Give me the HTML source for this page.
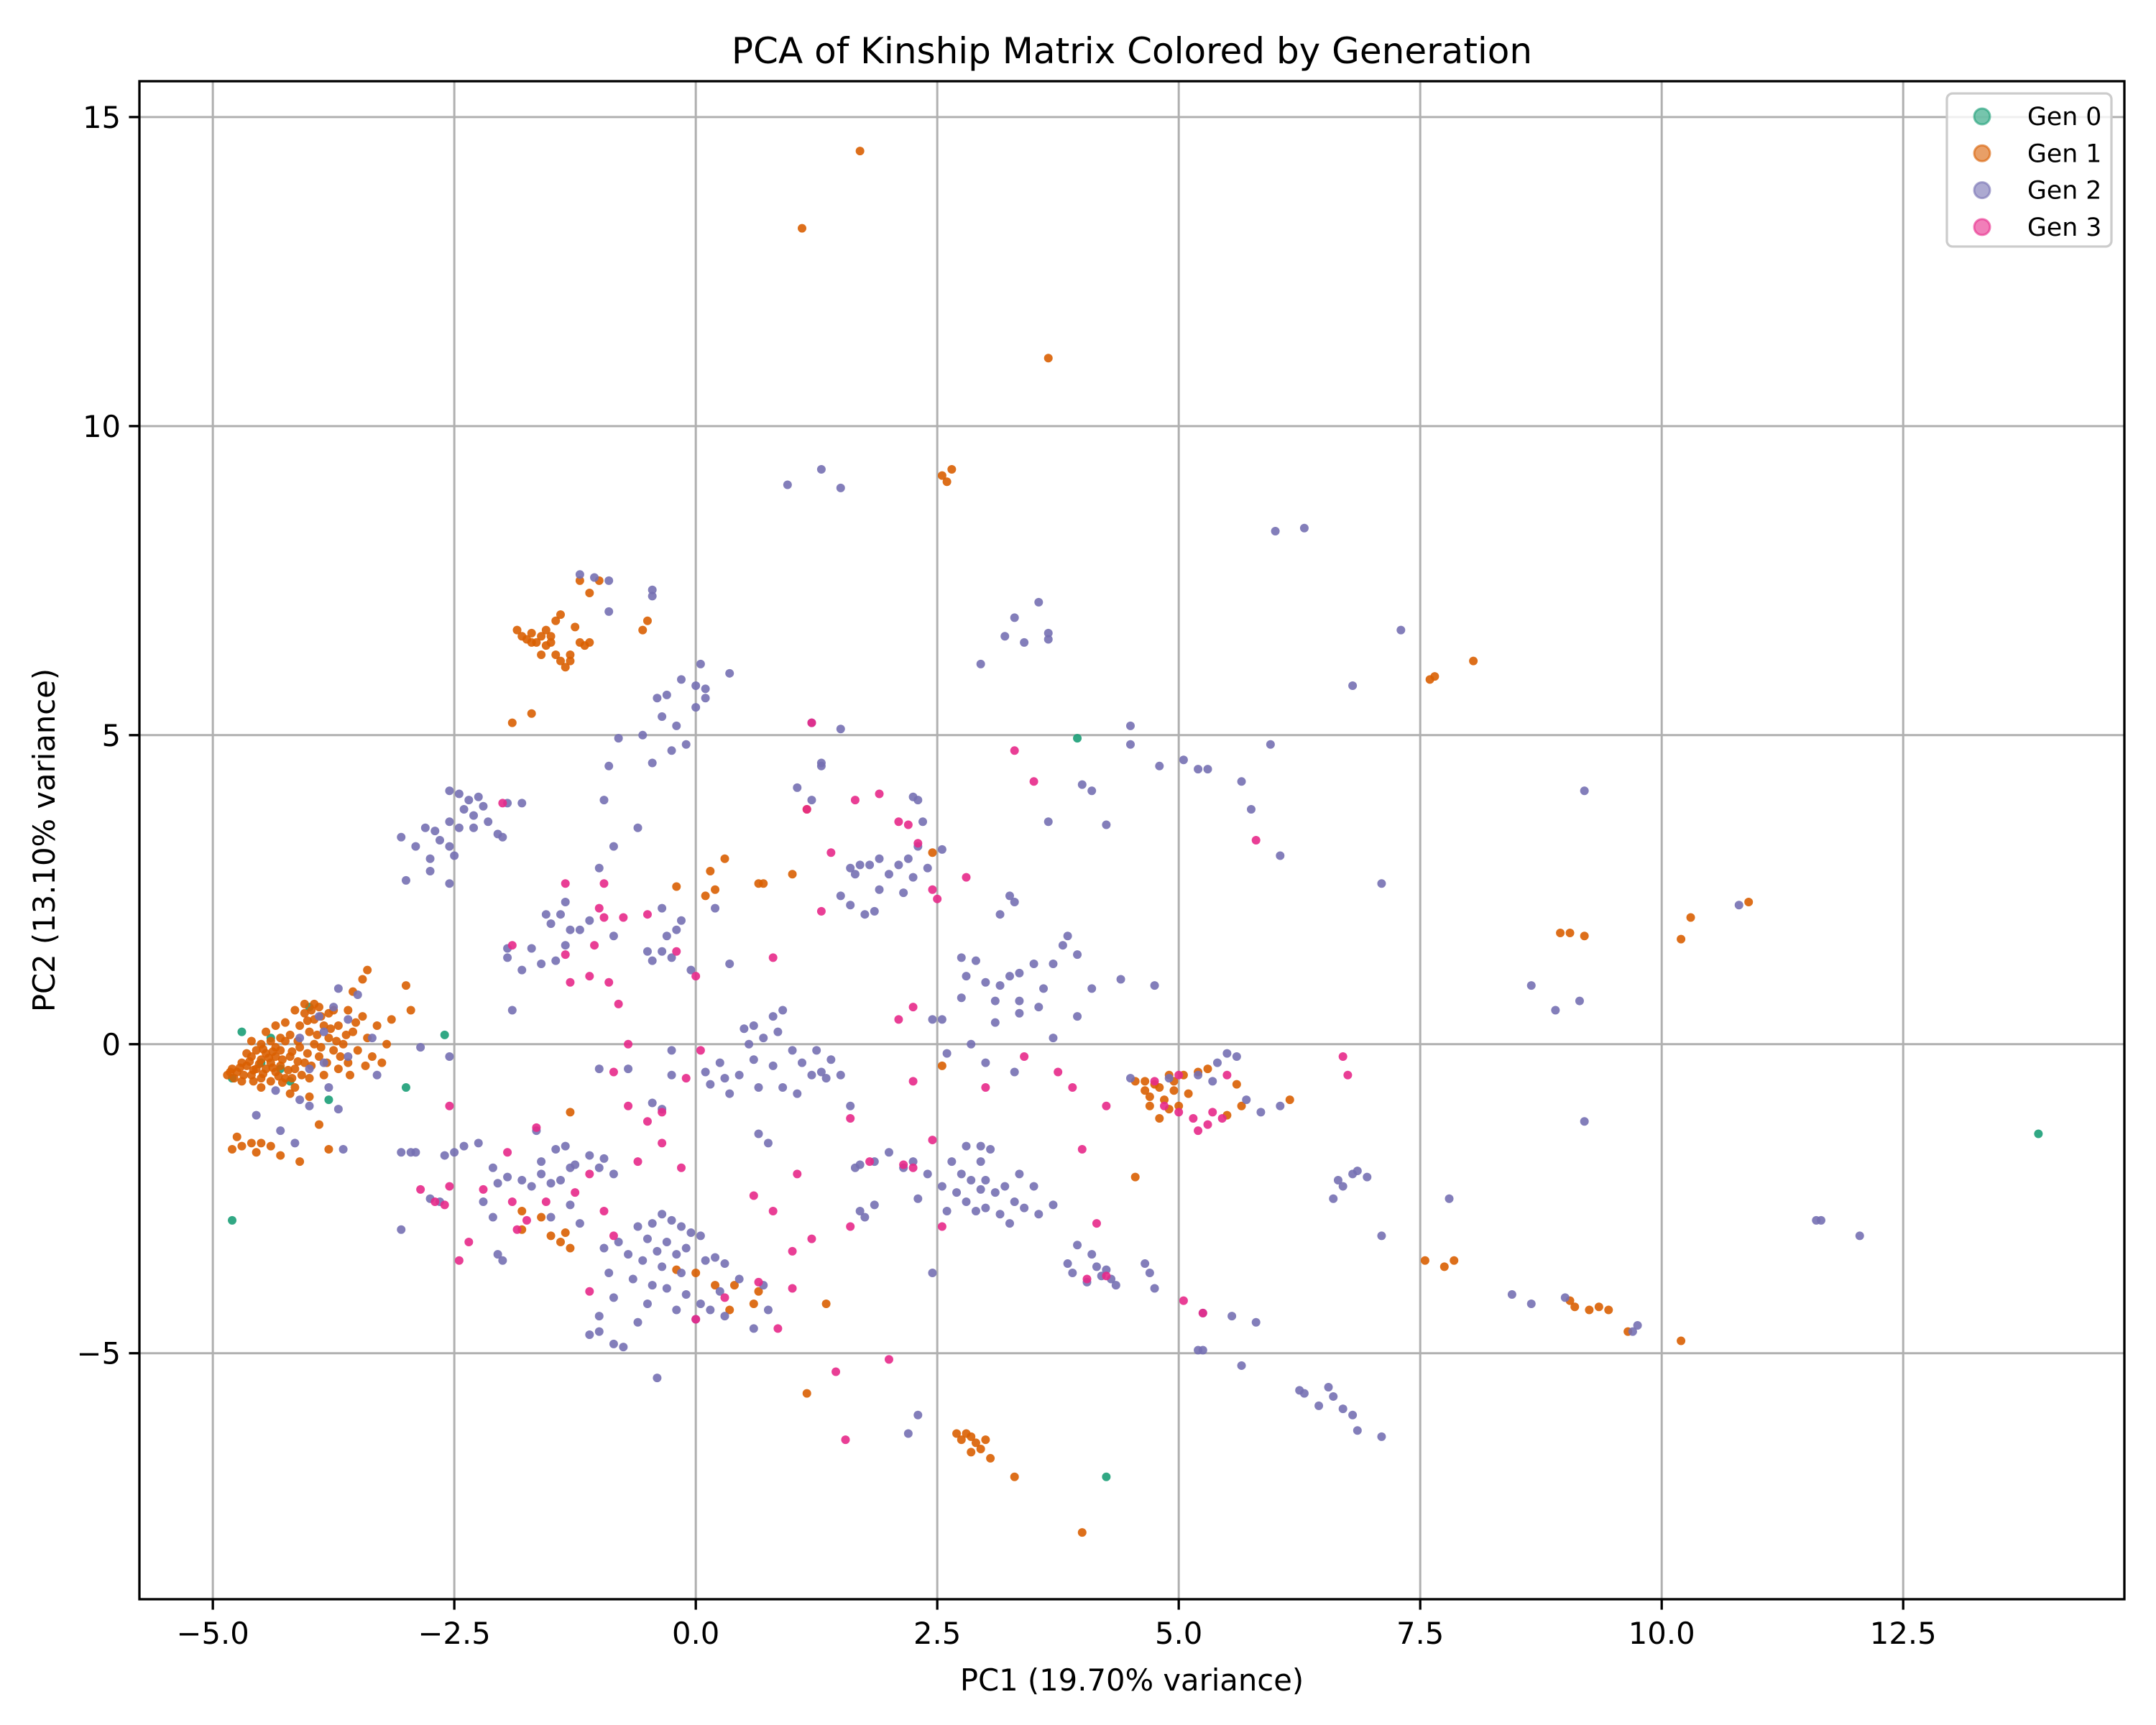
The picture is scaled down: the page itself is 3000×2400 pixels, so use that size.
<!DOCTYPE html>
<html><head><meta charset="utf-8"><style>
html,body{margin:0;padding:0;background:#fff;}
svg{display:block;font-family:"DejaVu Sans","Liberation Sans",sans-serif;}
</style></head><body>
<svg id="chart" width="3000" height="2400" viewBox="0 0 3000 2400" xmlns="http://www.w3.org/2000/svg">
<rect width="3000" height="2400" fill="#fff"/>
<g id="grid"></g>
<g id="points"></g>
<g id="axes"></g>
<text x="1575" y="88" text-anchor="middle" font-size="50">PCA of Kinship Matrix Colored by Generation</text>
<text x="1575" y="2352" text-anchor="middle" font-size="41.7">PC1 (19.70% variance)</text>
<text x="0" y="0" transform="translate(76,1169) rotate(-90)" text-anchor="middle" font-size="41.7">PC2 (13.10% variance)</text>
<g id="legend"></g>
</svg>
<script>
const xTicks=[-5,-2.5,0,2.5,5,7.5,10,12.5];
const xTickLabels=["\u22125.0","\u22122.5","0.0","2.5","5.0","7.5","10.0","12.5"];
const yTicks=[-5,0,5,10,15];
const yTickLabels=["\u22125","0","5","10","15"];
const genNames=["Gen 0","Gen 1","Gen 2","Gen 3"];
const genColors=["#1b9e77","#d95f02","#7570b3","#e7298a"];
const gen0=[[-4.8,-0.55],[-4.7,0.2],[-4.5,-0.3],[-4.3,-0.4],[-4.0,0.6],[-2.6,0.15],[-3.0,-0.7],[-4.8,-2.85],[3.95,4.95],[4.25,-7.0],[13.9,-1.45],[-4.4,0.1],[-4.2,-0.6],[-3.8,-0.9]];
const gen1=[[-4.85,-0.5],[-4.8,-0.4],[-4.75,-0.45],[-4.7,-0.3],[-4.65,-0.35],[-4.6,-0.2],[-4.6,-0.5],[-4.55,-0.1],[-4.55,-0.4],[-4.5,0.0],[-4.5,-0.25],[-4.5,-0.55],[-4.45,-0.15],[-4.45,-0.4],[-4.4,0.05],[-4.4,-0.3],[-4.4,-0.6],[-4.35,-0.2],[-4.35,-0.45],[-4.3,0.1],[-4.3,-0.1],[-4.3,-0.35],[-4.25,-0.55],[-4.2,-0.2],[-4.2,0.15],[-4.15,-0.4],[-4.15,-0.7],[-4.1,0.3],[-4.1,-0.05],[-4.05,0.5],[-4.05,-0.3],[-4.0,0.2],[-4.0,-0.55],[-3.95,0.4],[-3.95,0.0],[-3.9,0.6],[-3.9,-0.2],[-3.85,0.3],[-3.85,-0.5],[-3.8,0.1],[-3.8,0.5],[-3.75,-0.1],[-3.7,0.3],[-3.7,-0.4],[-3.65,0.0],[-3.6,-0.3],[-3.55,0.2],[-3.5,-0.1],[-3.45,0.45],[-3.4,0.1],[-3.35,-0.2],[-3.3,0.3],[-3.45,1.05],[-3.4,1.2],[-3.55,0.85],[-4.2,-0.8],[-4.0,-0.85],[-4.5,-0.7],[-4.7,-0.6],[-4.25,0.35],[-4.05,0.65],[-3.95,0.65],[-4.15,0.55],[-4.6,0.05],[-4.45,0.2],[-4.35,0.3],[-3.25,-0.3],[-3.2,0.0],[-3.6,0.55],[-3.75,0.55],
[-4.82,-0.45],[-4.78,-0.55],[-4.72,-0.38],[-4.68,-0.5],[-4.62,-0.28],[-4.58,-0.42],[-4.52,-0.32],[-4.48,-0.48],[-4.42,-0.22],[-4.38,-0.38],[-4.32,-0.52],[-4.28,-0.25],[-4.22,-0.42],[-4.18,-0.12],[-4.12,-0.28],[-4.08,-0.5],[-4.02,-0.15],[-3.98,-0.35],[-3.92,0.15],[-3.88,-0.05],[-3.82,-0.3],[-3.78,0.25],[-3.72,0.05],[-3.68,-0.2],[-4.48,-0.08],[-4.38,-0.12],[-4.28,-0.62],[-4.12,0.05],[-4.02,0.38],[-3.98,0.55],[-3.88,0.45],[-4.58,-0.6],[-4.65,-0.15],[-4.35,-0.05],[-4.25,0.05],[-4.18,-0.55],[-3.62,0.15],[-3.52,0.35],[-3.42,-0.35],[-3.58,-0.5],
[-1.85,6.7],[-1.8,6.6],[-1.75,6.55],[-1.7,6.65],[-1.65,6.5],[-1.6,6.6],[-1.55,6.45],[-1.5,6.6],[-1.6,6.3],[-1.45,6.3],[-1.4,6.2],[-1.35,6.1],[-1.3,6.3],[-1.2,6.5],[-1.15,6.45],[-1.1,6.5],[-1.45,6.85],[-1.4,6.95],[-1.25,6.75],[-1.55,6.7],[-1.7,6.5],[-1.3,6.2],[-1.5,6.5],
[4.55,-0.6],[4.65,-0.75],[4.7,-0.85],[4.75,-0.65],[4.8,-0.7],[4.85,-0.9],[4.9,-1.05],[4.95,-0.75],[4.7,-1.0],[4.8,-1.2],[5.0,-1.0],[4.65,-0.6],[5.1,-0.8],[4.95,-0.6],[5.2,-0.45],[5.3,-0.4],[5.6,-0.65],[5.65,-1.0],[5.5,-1.15],[5.05,-0.5],[4.9,-0.5],
[2.7,-6.3],[2.75,-6.4],[2.85,-6.35],[2.9,-6.45],[2.95,-6.55],[3.0,-6.4],[2.85,-6.6],[3.05,-6.7],[2.8,-6.3],
[1.7,14.45],[1.1,13.2],[3.65,11.1],[2.55,9.2],[2.65,9.3],[2.6,9.1],[7.6,5.9],[7.65,5.95],[8.05,6.2],[8.95,1.8],[9.05,1.8],[9.2,1.75],[10.2,1.7],[10.3,2.05],[10.9,2.3],[-1.9,5.2],[-1.7,5.35],[0.3,3.0],[0.2,2.5],[0.1,2.4],[-0.2,2.55],[0.15,2.8],[0.65,2.6],[0.7,2.6],[1.0,2.75],[1.15,3.8],[2.45,3.1],[2.55,-0.35],[-0.2,-3.65],[0.0,-3.7],[0.2,-3.9],[0.4,-3.9],[0.35,-4.3],[0.65,-4.0],[0.6,-4.2],[1.15,-5.65],[1.35,-4.2],[3.3,-7.0],[4.0,-7.9],[4.55,-2.15],[7.55,-3.5],[7.75,-3.6],[7.85,-3.5],[9.05,-4.15],[9.1,-4.25],[9.25,-4.3],[9.35,-4.25],[9.45,-4.3],[9.65,-4.65],[10.2,-4.8],[-2.95,0.55],[-3.0,0.95],[-3.15,0.4],[-1.8,-3.0],[-1.6,-2.8],[-1.4,-3.2],[-1.35,-3.05],[-1.8,-2.7],[-1.5,-3.1],[-1.3,-3.3],[-1.3,-1.1],[-0.5,6.85],[-0.55,6.7],[-1.1,7.3],[-1.2,7.5],[-1.0,7.5],[6.15,-0.9],[-4.3,-1.8],[-4.1,-1.9],[-3.8,-1.7],[-4.5,-1.6],[-4.6,-1.6],[-4.8,-1.7],[-4.75,-1.5],[-3.9,-1.3],[-4.55,-1.75],[-4.4,-1.65],[-4.7,-1.65]];
const gen2=[[0.95,9.05],[1.3,9.3],[1.5,9.0],[6.0,8.3],[6.3,8.35],[3.3,6.9],[3.55,7.15],[3.2,6.6],[3.4,6.5],[3.65,6.65],[3.65,6.55],[2.95,6.15],[7.3,6.7],[6.8,5.8],[4.5,5.15],[4.5,4.85],[4.8,4.5],[5.05,4.6],[5.2,4.45],[5.3,4.45],[5.65,4.25],[5.95,4.85],[5.75,3.8],[6.05,3.05],[7.1,2.6],[4.0,4.2],[4.1,4.1],[4.25,3.55],[3.65,3.6],[9.2,4.1],[1.2,5.2],[1.5,5.1],[1.3,4.55],[1.05,4.15],[1.2,3.95],[1.3,4.5],
[-1.2,7.6],[-1.05,7.55],[-0.9,7.5],[-0.45,7.35],[-0.45,7.25],[-0.9,7.0],[0.05,6.15],[0.35,6.0],[-0.15,5.9],[0.0,5.8],[0.1,5.75],[0.1,5.6],[-0.3,5.65],[-0.4,5.6],[0.0,5.45],[-0.35,5.3],[-0.2,5.15],[-0.55,5.0],[-0.8,4.95],[-0.9,4.5],[-0.45,4.55],[-0.25,4.75],[-0.1,4.85],[-0.95,3.95],[-0.6,3.5],[-0.85,3.2],[-1.0,2.85],
[-2.55,4.1],[-2.45,4.05],[-2.35,3.95],[-2.25,4.0],[-2.2,3.85],[-2.4,3.8],[-2.3,3.7],[-2.55,3.6],[-2.45,3.5],[-2.3,3.5],[-2.15,3.6],[-2.05,3.4],[-2.0,3.35],[-2.7,3.45],[-2.8,3.5],[-2.65,3.3],[-2.55,3.2],[-2.75,3.0],[-2.75,2.8],[-2.55,2.6],[-3.05,3.35],[-3.0,2.65],[-2.9,3.2],[-1.95,3.9],[-1.8,3.9],[-2.5,3.05],
[-1.55,2.1],[-1.4,2.1],[-1.35,2.3],[-1.5,1.95],[-1.3,1.85],[-1.35,1.6],[-1.2,1.85],[-1.1,2.0],[-1.6,1.3],[-1.8,1.2],[-1.95,1.55],[-1.95,1.4],[-1.7,1.55],[-1.45,1.35],[-0.85,1.75],[-0.5,1.5],[-0.45,1.35],[-0.35,1.5],[-0.3,1.75],[-0.2,1.85],[-0.15,2.0],[-0.25,1.4],[-0.05,1.2],[0.35,1.3],[-1.9,0.55],[-0.35,2.2],[0.2,2.2],
[0.5,0.25],[0.6,0.3],[0.8,0.45],[0.9,0.55],[0.85,0.2],[0.7,0.1],[0.55,0.0],[0.6,-0.25],[0.45,-0.5],[0.3,-0.55],[0.15,-0.65],[0.35,-0.8],[0.65,-0.7],[0.9,-0.7],[1.05,-0.8],[1.2,-0.5],[1.1,-0.3],[1.25,-0.1],[1.4,-0.25],[1.5,-0.5],[1.3,-0.45],[1.0,-0.1],[0.8,-0.35],[0.25,-0.3],[0.1,-0.45],[-0.25,-0.1],[0.75,-1.6],[0.65,-1.45],[1.35,-0.55],[1.6,-1.0],
[1.6,2.85],[1.7,2.9],[1.8,2.9],[1.9,3.0],[2.0,2.75],[2.1,2.9],[2.2,3.0],[2.3,3.2],[2.25,2.7],[2.15,2.45],[1.9,2.5],[1.85,2.15],[1.75,2.1],[1.6,2.25],[2.4,2.85],[2.55,3.15],[2.3,3.95],[2.25,4.0],[2.35,3.6],[1.65,2.75],[1.5,2.4],[2.6,-0.15],
[3.25,2.4],[3.3,2.3],[3.15,2.1],[3.5,1.3],[3.7,1.3],[3.8,1.6],[3.95,1.45],[3.85,1.75],[3.35,1.15],[3.25,1.1],[3.15,0.95],[3.0,1.0],[3.1,0.7],[2.75,1.4],[2.8,1.1],[2.9,1.35],[2.75,0.75],[2.55,0.4],[3.35,0.7],[3.6,0.9],[3.55,0.6],[3.35,0.5],[3.7,0.1],[3.95,0.45],[4.1,0.9],[4.4,1.05],[4.75,0.95],[3.1,0.35],[2.85,0.0],[3.0,-0.3],[3.3,-0.45],
[5.2,-0.5],[5.4,-0.3],[5.5,-0.15],[5.6,-0.2],[5.7,-0.9],[5.85,-1.1],[6.05,-1.0],[5.35,-0.6],[4.9,-0.55],[4.5,-0.55],[6.65,-2.2],[6.7,-2.3],[6.6,-2.5],[6.8,-2.1],[6.85,-2.05],[6.95,-2.15],[7.1,-3.1],[7.8,-2.5],[8.65,0.95],[9.15,0.7],[9.2,-1.25],[8.9,0.55],[11.6,-2.85],[11.65,-2.85],[12.05,-3.1],[10.8,2.25],[8.45,-4.05],[8.65,-4.2],[9.0,-4.1],[9.75,-4.55],[9.7,-4.65],
[2.8,-1.65],[2.95,-1.65],[3.05,-1.7],[2.65,-1.9],[2.75,-2.1],[2.85,-2.2],[2.95,-2.35],[3.0,-2.2],[3.1,-2.4],[3.2,-2.3],[3.3,-2.55],[3.35,-2.1],[3.5,-2.3],[2.7,-2.4],[2.8,-2.55],[2.9,-2.7],[3.0,-2.65],[3.15,-2.75],[3.25,-2.9],[2.6,-2.7],[2.55,-2.3],[2.4,-2.1],[2.3,-2.5],[2.0,-1.75],[1.85,-1.9],[1.7,-1.95],[1.65,-2.0],[2.15,-2.0],[2.25,-1.9],[1.85,-2.6],[1.7,-2.7],[1.75,-2.8],[3.55,-2.75],[3.7,-2.6],[3.4,-2.65],[2.45,-3.7],[2.3,-6.0],[2.2,-6.3],[2.95,-1.9],
[3.85,-3.55],[3.9,-3.7],[3.95,-3.25],[4.1,-3.4],[4.15,-3.6],[4.2,-3.75],[4.3,-3.8],[4.35,-3.9],[4.25,-3.65],[4.05,-3.85],[4.65,-3.55],[4.7,-3.7],[4.75,-3.95],[5.25,-4.35],[5.2,-4.95],[5.25,-4.95],[5.55,-4.4],[5.65,-5.2],[5.8,-4.5],[6.25,-5.6],[6.3,-5.65],[6.45,-5.85],[6.55,-5.55],[6.6,-5.7],[6.7,-5.9],[6.85,-6.25],[7.1,-6.35],[6.8,-6.0],
[-0.6,-2.95],[-0.45,-2.9],[-0.35,-2.75],[-0.25,-2.85],[-0.15,-2.95],[-0.05,-3.05],[0.05,-3.1],[-0.3,-3.2],[-0.4,-3.35],[-0.2,-3.4],[-0.1,-3.3],[0.1,-3.5],[0.2,-3.45],[-0.55,-3.5],[-0.7,-3.4],[-0.8,-3.2],[-0.9,-3.7],[-0.65,-3.8],[-0.45,-3.9],[-0.3,-3.95],[-0.1,-4.05],[0.05,-4.2],[0.15,-4.3],[0.25,-4.0],[0.3,-4.4],[-0.2,-4.3],[-0.5,-4.2],[-0.85,-4.1],[-1.0,-4.4],[-1.1,-4.7],[-1.0,-4.65],[-0.85,-4.85],[-0.75,-4.9],[-0.4,-5.4],[-0.6,-4.5],[0.0,-4.45],[-0.35,-3.6],[-0.15,-3.7],[0.45,-3.8],[0.7,-3.9],[0.6,-4.6],[0.75,-4.3],[-0.95,-3.3],[-0.5,-3.15],[0.3,-3.55],
[-3.05,-3.0],[-2.95,-1.75],[-2.9,-1.75],[-2.6,-1.8],[-2.5,-1.75],[-2.4,-1.65],[-2.25,-1.6],[-2.75,-2.5],[-2.65,-2.55],[-2.2,-2.55],[-2.1,-2.8],[-2.05,-2.25],[-1.95,-2.15],[-1.8,-2.2],[-1.7,-2.3],[-1.6,-2.1],[-1.5,-2.25],[-1.4,-2.2],[-1.3,-2.0],[-1.25,-1.95],[-1.6,-1.9],[-1.45,-1.7],[-1.65,-1.4],[-1.35,-1.65],[-2.0,-3.5],[-2.05,-3.4],[-1.1,-1.8],[-1.0,-2.0],[-0.95,-1.85],[-0.85,-2.1],[-1.2,-2.9],[-1.3,-2.6],[-1.5,-2.8],[-3.05,-1.75],[-2.1,-2.0],
[-3.7,0.9],[-3.5,0.8],[-3.75,0.6],[-3.6,0.4],[-3.85,0.2],[-4.1,0.1],[-4.0,-0.4],[-3.8,-0.7],[-4.1,-0.9],[-4.35,-0.75],[-4.0,-1.0],[-3.7,-1.05],[-4.55,-1.15],[-4.3,-1.4],[-4.15,-1.6],[-3.65,-1.7],[-3.85,-0.3],[-3.35,0.1],[-3.3,-0.5],[-3.6,-0.2],[-3.9,0.45],[-2.55,-0.2],[-2.85,-0.05],[-0.45,-0.95],[-0.25,-0.5],[-1.0,-0.4],[-0.7,-0.4],[-0.35,-1.05],[2.45,0.4]];
const gen3=[[1.2,5.2],[3.3,4.75],[3.5,4.25],[1.65,3.95],[1.15,3.8],[1.9,4.05],[2.1,3.6],[2.2,3.55],[2.3,3.25],[1.4,3.1],[2.45,2.5],[2.5,2.35],[2.8,2.7],[1.3,2.15],[5.8,3.3],[-1.35,2.6],[-1.0,2.2],[-0.95,2.05],[-0.75,2.05],[-0.5,2.1],[-0.95,2.6],[-1.05,1.6],[-1.35,1.45],[-1.3,1.0],[-1.1,1.1],[-0.9,1.0],[-0.8,0.65],[-0.2,1.5],[0.0,1.1],[0.8,1.4],[2.1,0.4],[2.25,0.6],[3.0,-0.7],[3.4,-0.2],[3.75,-0.45],[4.25,-1.0],[4.75,-0.6],[4.85,-1.0],[5.0,-1.1],[5.15,-1.2],[5.3,-1.3],[5.2,-1.4],[5.45,-1.2],[5.5,-0.5],[4.15,-2.9],[4.05,-3.8],[4.0,-1.7],[5.05,-4.15],[5.25,-4.35],[6.7,-0.2],[6.75,-0.5],[-0.7,0.0],[-0.85,-0.45],[-0.7,-1.0],[-0.5,-1.25],[-0.35,-1.1],[-0.1,-0.55],[0.05,-0.1],[-2.55,-1.0],[-2.6,-2.6],[-2.7,-2.55],[-2.85,-2.35],[-2.55,-2.3],[-2.2,-2.35],[-1.95,-1.75],[-1.9,-2.55],[-1.75,-2.85],[-1.85,-3.0],[-1.55,-2.55],[-1.65,-1.35],[-1.25,-2.4],[-1.1,-2.1],[-0.95,-2.7],[-0.85,-3.1],[-0.6,-1.9],[-0.35,-1.6],[-0.15,-2.0],[-1.1,-4.0],[-2.45,-3.5],[-2.35,-3.2],[0.6,-2.45],[0.8,-2.7],[1.05,-2.1],[1.2,-3.15],[1.0,-3.35],[0.85,-4.6],[0.65,-3.85],[1.0,-3.95],[0.3,-4.1],[0.0,-4.45],[1.6,-2.95],[1.8,-1.9],[2.15,-1.95],[2.25,-2.0],[2.55,-2.95],[2.45,-1.55],[2.25,-0.6],[1.45,-5.3],[1.55,-6.4],[2.0,-5.1],[1.6,-1.2],[3.9,-0.7],[4.25,-3.75],[5.35,-1.1],[5.0,-0.5],[-2.0,3.9],[-1.9,1.6]];
const series=[gen0,gen1,gen2,gen3];

const NS="http://www.w3.org/2000/svg";
const L=194,R=2956,T=113,B=2225;
const xMin=-5.76,xMax=14.79,yMin=-8.98,yMax=15.58;
function sx(v){return L+(v-xMin)/(xMax-xMin)*(R-L);}
function sy(v){return B-(v-yMin)/(yMax-yMin)*(B-T);}
function mk(tag,attrs,parent){const e=document.createElementNS(NS,tag);for(const k in attrs)e.setAttribute(k,attrs[k]);parent.appendChild(e);return e;}
const grid=document.getElementById('grid'),axes=document.getElementById('axes'),pts=document.getElementById('points'),leg=document.getElementById('legend');
xTicks.forEach((t,i)=>{
 const x=sx(t);
 const g=mk('line',{x1:x,x2:x,y1:T,y2:B,stroke:'#b0b0b0','stroke-width':3},grid);
 
 
 const tk=mk('line',{x1:x,x2:x,y1:B,y2:B+14.6,stroke:'#000','stroke-width':3.3},axes);
 
 
 const tx=mk('text',{x:x,y:B+62,'text-anchor':'middle','font-size':41.7},axes);
 
 
 tx.textContent=xTickLabels[i];
});
yTicks.forEach((t,i)=>{
 const y=sy(t);
 const g=mk('line',{x1:L,x2:R,y1:y,y2:y,stroke:'#b0b0b0','stroke-width':3},grid);
 
 
 const tk=mk('line',{x1:L-14.6,x2:L,y1:y,y2:y,stroke:'#000','stroke-width':3.3},axes);
 
 
 const tx=mk('text',{x:L-26,y:y+15,'text-anchor':'end','font-size':41.7},axes);
 
 
 tx.textContent=yTickLabels[i];
});
series.forEach((s,gi)=>{
 s.forEach(p=>{
  const c=mk('circle',{cx:sx(p[0]),cy:sy(p[1]),r:6,fill:genColors[gi],'fill-opacity':0.9},pts);
  
  
 });
});
const fr=mk('rect',{x:L,y:T,width:R-L,height:B-T,fill:'none',stroke:'#000','stroke-width':3.3},axes);


const lb=mk('rect',{x:2709,y:130,width:229,height:213,rx:8,fill:'#fff','fill-opacity':0.8,stroke:'#cccccc','stroke-width':3.3},leg);


genNames.forEach((n,i)=>{
 const y=162+i*51.3;
 const m=mk('circle',{cx:2758,cy:y,r:11,fill:genColors[i],'fill-opacity':0.6,stroke:genColors[i],'stroke-opacity':0.6,'stroke-width':3},leg);
 
 
 const t=mk('text',{x:2821,y:y+12,'font-size':34.7},leg);
 
 
 t.textContent=n;
});
</script>
</body></html>
